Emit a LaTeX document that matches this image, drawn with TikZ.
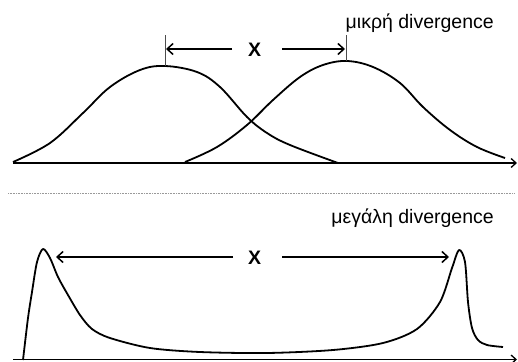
\documentclass[tikz,border=0pt]{standalone}
\usepackage{fontspec}
\setmainfont{Liberation Sans}
\usetikzlibrary{arrows.meta}
\begin{document}
\begin{tikzpicture}[x=1pt,y=-1pt,
  curve/.style={line width=1.8pt, line join=round},
  axis/.style={line width=1.3pt, -{Straight Barb[length=5pt,width=9pt,line width=1.3pt]}},
  dimarrow/.style={line width=1.5pt, -{Straight Barb[length=6pt,width=11pt,line width=1.5pt]}},
  tick/.style={line width=1pt, black!70},
  lbl/.style={font=\fontsize{19.5}{21}\selectfont, inner sep=0pt},
  xlbl/.style={font=\fontsize{19.5}{21}\selectfont\bfseries, inner sep=0pt}]
\useasboundingbox (0,0) rectangle (518,361);
% ---------- top panel ----------
\coordinate (ta0) at (13,163);
\coordinate (ta1) at (517,163);
\draw[axis] (ta0) -- (ta1);
\draw[curve] plot[smooth, tension=0.6] coordinates {(13,162) (50,143) (83,113) (110,87) (140,70) (165,66) (197,72) (220,87) (247,117) (267,133) (290,145) (338,163)};
\draw[curve] plot[smooth, tension=0.6] coordinates {(185,162) (217,147) (247,125) (273,100) (300,77) (323,65) (347,61) (373,67) (400,83) (423,107) (450,130) (477,147) (505,158)};
\coordinate (p1) at (165,66);
\coordinate (p1t) at (165,35);
\coordinate (p2) at (346,61);
\coordinate (p2t) at (346,35);
\draw[tick] (p1) -- (p1t);
\draw[tick] (p2) -- (p2t);
\node[xlbl] (x1) at (254.7,50) {X};
\coordinate (a1l) at (166,49);
\coordinate (a1r) at (345,49);
\coordinate (a1ls) at (232,49);
\coordinate (a1rs) at (282,49);
\draw[dimarrow] (a1ls) -- (a1l);
\draw[dimarrow] (a1rs) -- (a1r);
\node[lbl, anchor=base east] (t1) at (494,28.3) {μικρή divergence};
% ---------- separator ----------
\coordinate (s0) at (8,193);
\coordinate (s1) at (515,193);
\draw[black!40, line width=0.8pt, dash pattern=on 1pt off 0.6pt] (s0) -- (s1);
% ---------- bottom panel ----------
\coordinate (ba0) at (13,359.5);
\coordinate (ba1) at (517,359.5);
\draw[axis] (ba0) -- (ba1);
\draw[curve] plot[smooth, tension=0.5] coordinates {(23,360) (28,318) (32,292) (37,262) (43,249) (50,258) (58,277) (68,295) (80,315) (92,329) (110,338) (150,348) (200,352) (267,353) (333,350) (383,343) (417,329) (440,302) (452,268) (459,250) (465,262) (468,302) (472,328) (478,340) (487,345) (503,347)};
\node[xlbl] (x2) at (254.7,258) {X};
\coordinate (a2l) at (56,257);
\coordinate (a2r) at (449,257);
\coordinate (a2ls) at (233,257);
\coordinate (a2rs) at (282,257);
\draw[dimarrow] (a2ls) -- (a2l);
\draw[dimarrow] (a2rs) -- (a2r);
\node[lbl, anchor=base east] (t2) at (494,223.3) {μεγάλη divergence};
\end{tikzpicture}
\end{document}
